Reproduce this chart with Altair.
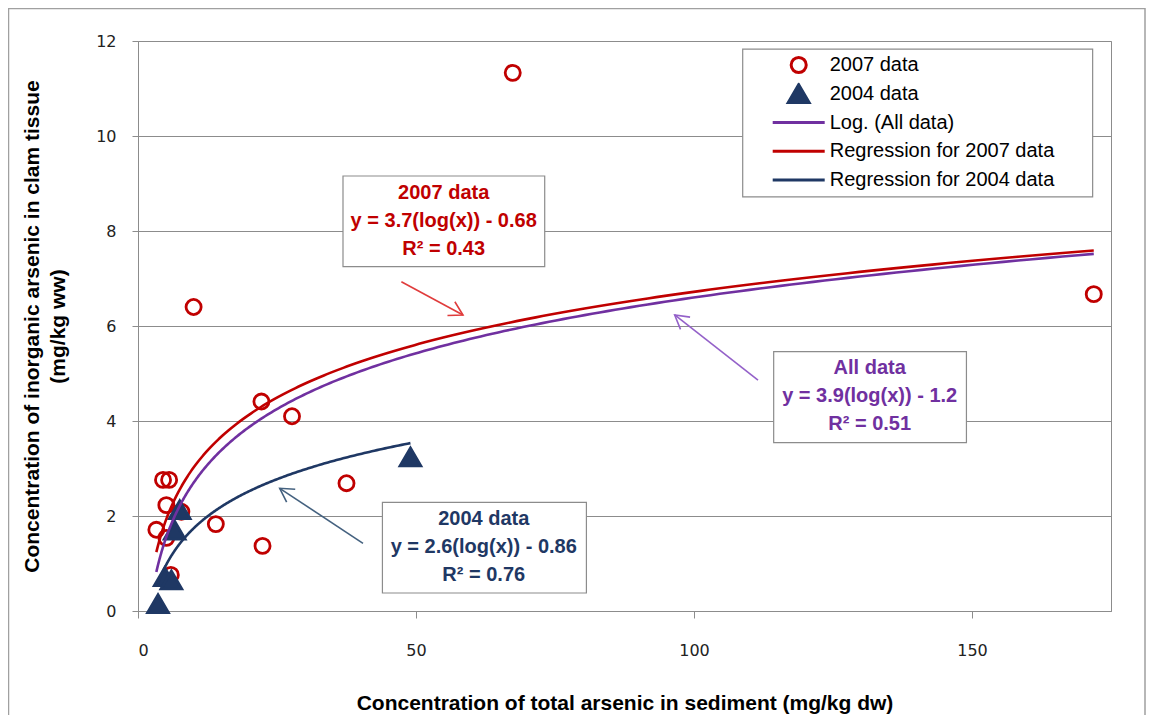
import math
import altair as alt
import numpy as np
import pandas as pd

# ---------------- data ----------------
x_2007 = [22.2, 27.7, 37.5, 14.0, 22.4, 4.5, 5.6, 5.1, 3.3, 5.1, 7.8, 67.4, 10.0, 171.9, 5.9]
y_2007 = [4.41, 4.10, 2.69, 1.83, 1.37, 2.76, 2.76, 2.23, 1.71, 1.54, 2.09, 11.33, 6.40, 6.67, 0.76]
x_2004 = [3.6, 4.8, 6.0, 6.6, 7.5, 49.0]
y_2004 = [0.15, 0.72, 0.65, 1.70, 2.13, 3.24]

POINT_SERIES = ["2007 data", "2004 data"]
FIT_SERIES = ["Log. (All data)", "Regression for 2007 data", "Regression for 2004 data"]
fit_slope = [3.9, 3.7, 2.6]          # y = a*log(x) + b as printed on the chart
fit_intercept = [-1.2, -0.68, -0.86]
fit_xmin = [3.3, 3.3, 3.6]
fit_xmax = [171.9, 171.9, 49.0]

x_ticks = [0, 50, 100, 150]
y_ticks = [0, 2, 4, 6, 8, 10, 12]

box_title = ["2007 data", "All data", "2004 data"]
box_eq = ["y = 3.7(log(x)) - 0.68", "y = 3.9(log(x)) - 1.2", "y = 2.6(log(x)) - 0.86"]
box_r2 = ["R\u00b2 = 0.43", "R\u00b2 = 0.51", "R\u00b2 = 0.76"]

# ---------------- styling / layout ----------------
RED = "#c00000"
NAVY = "#1f3864"
PURPLE = "#7030a0"
GRAY = "#8c8c8c"
FONT = "Liberation Sans"
TICKFONT = "DejaVu Sans"
W, H = 973, 570
XMAX, YMAX = 175, 12

# symbol paths drawn inside the (large) symbol box so that the legend's line
# entries can be long while circles / triangles stay small
SYM = 2704
CIRCLE = "M0.29,0A0.29,0.29,0,1,1,-0.29,0A0.29,0.29,0,1,1,0.29,0Z"
TRIANGLE = "M0,-0.35L0.4,0.34L-0.4,0.34Z"

# annotation boxes (data coords): x1, x2, y_top, y_bottom, text x, first-line y, color
boxes = [
    (36.87, 73.15, 9.158, 7.248, 54.98, 8.794, RED),
    (114.33, 149.0, 5.459, 3.543, 131.6, 5.109, PURPLE),
    (43.96, 80.65, 2.288, 0.379, 62.18, 1.937, NAVY),
]
# arrows: tail x, tail y, tip x, tip y, color
arrows = [
    (47.37, 6.933, 58.45, 6.232, "#e03c3c"),
    (111.51, 4.863, 96.53, 6.232, "#9461c9"),
    (40.47, 1.425, 25.49, 2.583, "#44617f"),
]
legend_box = (108.76, 171.7, 11.83, 8.72)

xscale = alt.Scale(domain=[0, XMAX], nice=False, zero=True)
yscale = alt.Scale(domain=[0, YMAX], nice=False, zero=True)
xaxis = alt.Axis(values=x_ticks, grid=False, tickSize=7, labelPadding=24, titlePadding=34,
                 title="Concentration of total arsenic in sediment (mg/kg dw)")
yaxis = alt.Axis(values=y_ticks, grid=True, tickSize=6, labelPadding=16, titlePadding=27,
                 titleLineHeight=26,
                 title=["Concentration of inorganic arsenic in clam tissue", "(mg/kg ww)"])


def X(f="x"):
    return alt.X(f + ":Q", scale=xscale, axis=xaxis)


def Y(f="y"):
    return alt.Y(f + ":Q", scale=yscale, axis=yaxis)


# ---------------- tables ----------------
points_df = pd.DataFrame(
    {"x": x_2007 + x_2004, "y": y_2007 + y_2004,
     "series": [POINT_SERIES[0]] * len(x_2007) + [POINT_SERIES[1]] * len(x_2004)})

fit_rows = []
for name, a, b, lo, hi in zip(FIT_SERIES, fit_slope, fit_intercept, fit_xmin, fit_xmax):
    for xv in np.geomspace(lo, hi, 240):
        fit_rows.append({"x": float(xv), "y": a * math.log10(xv) + b, "series": name})
fit_df = pd.DataFrame(fit_rows)

# ---------------- legend (one legend, 5 entries) ----------------
SERIES = POINT_SERIES + FIT_SERIES
color_scale = alt.Scale(domain=SERIES, range=[RED, NAVY, PURPLE, RED, NAVY])
shape_scale = alt.Scale(domain=SERIES, range=[CIRCLE, TRIANGLE, "stroke", "stroke", "stroke"])
fill_scale = alt.Scale(domain=SERIES, range=["transparent", NAVY, "transparent", "transparent", "transparent"])
leg = alt.Legend(title=None, orient="none", legendX=633.2, legendY=13, padding=0,
                 symbolSize=SYM, symbolStrokeWidth=3, clipHeight=22, rowPadding=6.75,
                 labelFont=FONT, labelFontSize=20, labelColor="#000000", labelOffset=3.5,
                 labelLimit=400)

# ---------------- layers ----------------
frame = alt.Chart(pd.DataFrame({"a": [0]})).mark_rect(
    fillOpacity=0, stroke="#a0a0a0", strokeWidth=1.5
).encode(x=alt.value(-129.5), x2=alt.value(1007), y=alt.value(-32.5), y2=alt.value(720))

lb = pd.DataFrame({"x": [legend_box[0]], "x2": [legend_box[1]],
                   "y": [legend_box[2]], "y2": [legend_box[3]]})
legend_rect = alt.Chart(lb).mark_rect(fill="white", stroke=GRAY, strokeWidth=1.2).encode(
    x=X(), x2="x2:Q", y=Y(), y2="y2:Q")

box_df = pd.DataFrame({"x": [b[0] for b in boxes], "x2": [b[1] for b in boxes],
                       "y": [b[2] for b in boxes], "y2": [b[3] for b in boxes]})
box_rects = alt.Chart(box_df).mark_rect(fill="white", stroke=GRAY, strokeWidth=1.2).encode(
    x=X(), x2="x2:Q", y=Y(), y2="y2:Q")

pts = alt.Chart(points_df).mark_point(size=SYM, strokeWidth=2.8, opacity=1, filled=False).encode(
    x=X(), y=Y(),
    color=alt.Color("series:N", scale=color_scale, legend=leg),
    shape=alt.Shape("series:N", scale=shape_scale, legend=leg),
    fill=alt.Fill("series:N", scale=fill_scale, legend=leg),
)

lines = alt.Chart(fit_df).mark_line(strokeWidth=2.6).encode(
    x=X(), y=Y(),
    color=alt.Color("series:N", scale=color_scale, legend=leg),
)

layers = [frame, legend_rect, box_rects, pts, lines]

HEAD = "M-0.55,0.95L0,0L0.55,0.95"
for (x0, y0, x1, y1, c) in arrows:
    adf = pd.DataFrame({"x": [x0], "y": [y0], "x2": [x1], "y2": [y1]})
    layers.append(alt.Chart(adf).mark_rule(color=c, strokeWidth=1.6).encode(
        x=X(), y=Y(), x2="x2:Q", y2="y2:Q"))
    dxp = (x1 - x0) * W / XMAX
    dyp = -(y1 - y0) * H / YMAX
    ang = math.degrees(math.atan2(dxp, -dyp)) % 360
    hdf = pd.DataFrame({"x": [x1], "y": [y1]})
    layers.append(alt.Chart(hdf).mark_point(shape=HEAD, filled=False, size=800, strokeWidth=1.6,
                                            color=c, opacity=1, angle=ang).encode(x=X(), y=Y()))

for i, b in enumerate(boxes):
    tdf = pd.DataFrame({"x": [b[4]], "y": [b[5]],
                        "t": [box_title[i] + "\n" + box_eq[i] + "\n" + box_r2[i]]})
    layers.append(alt.Chart(tdf).mark_text(
        lineBreak="\n", lineHeight=28, font=FONT, fontSize=20, fontWeight="bold",
        color=b[6], align="center", baseline="middle").encode(x=X(), y=Y(), text="t:N"))

chart = alt.layer(*layers).properties(
    width=W, height=H, autosize="none",
    padding={"left": 130, "top": 33, "right": 35, "bottom": 104},
).configure_view(stroke=GRAY, strokeWidth=1).configure_axis(
    domainColor=GRAY, tickColor=GRAY, gridColor=GRAY, gridWidth=1,
    labelFont=TICKFONT, labelFontSize=16, labelColor="#222222",
    titleFont=FONT, titleFontSize=21, titleFontWeight="bold", titleColor="#000000",
)

chart.save("out.html", embed_options={"renderer": "svg", "actions": False})
